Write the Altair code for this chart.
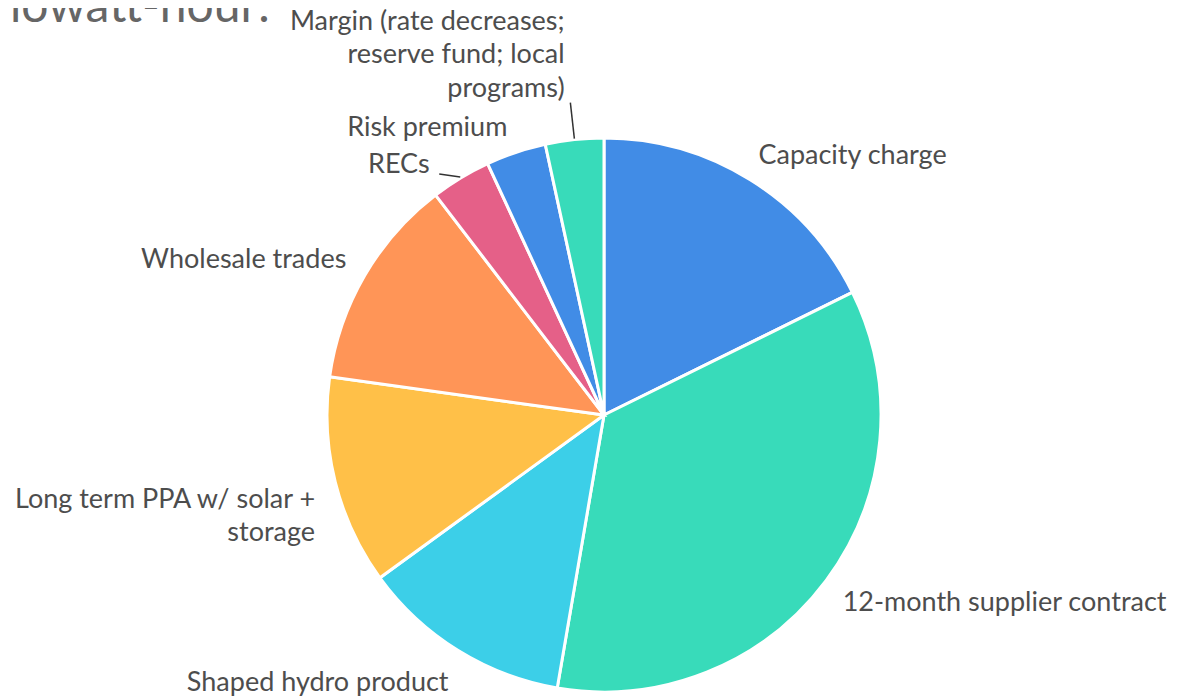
import math
import altair as alt
import pandas as pd

# ---- data ----
categories = [
    "Capacity charge",
    "12-month supplier contract",
    "Shaped hydro product",
    "Long term PPA w/ solar + storage",
    "Wholesale trades",
    "RECs",
    "Risk premium",
    "Margin (rate decreases; reserve fund; local programs)",
]
values = [17.7, 35.0, 12.3, 12.2, 12.4, 3.5, 3.5, 3.4]
labels = [
    "Capacity charge",
    "12-month supplier contract",
    "Shaped hydro product",
    "Long term PPA w/ solar +\nstorage",
    "Wholesale trades",
    "RECs",
    "Risk premium",
    "Margin (rate decreases;\nreserve fund; local\nprograms)",
]
title_text = "kilowatt-hour:"

# ---- styling / layout ----
colors = ["#418CE6", "#38DBBA", "#3CCFE8", "#FFC048", "#FF9557", "#E56088", "#418CE6", "#38DBBA"]
FONT = "Lato"
LABEL_SIZE = 27
LABEL_COLOR = "#4d4d4d"
CX, CY, R = 596, 407, 277
LABEL_R = 304
W, H = 1170, 688

# per-label placement: (align, dx, dy)
placement = [
    ("left", -6, -1),
    ("left", -5, 6),
    ("right", 5, 10),
    ("right", 6, 11),
    ("right", 5, -2),
    ("right", -17, 10),
    ("right", 0, 1),
    ("right", -7, -91),
]
# leader lines: (index, dx, dy) from slice edge to label
leaders = [(5, -21, -3), (7, -4, -36)]

total = sum(values)
df = pd.DataFrame({
    "idx": list(range(len(categories))),
    "category": categories,
    "value": values,
    "label": labels,
})

theta_scale = alt.Scale(domain=[0, total], range=[0, 2 * math.pi])
color_scale = alt.Scale(domain=categories, range=colors)

base = alt.Chart(df)

arcs = base.mark_arc(outerRadius=R, stroke="white", strokeWidth=3).encode(
    theta=alt.Theta("value:Q", stack=True, scale=theta_scale),
    order=alt.Order("idx:Q"),
    color=alt.Color("category:N", scale=color_scale, legend=None),
    x=alt.value(CX),
    y=alt.value(CY),
)

lbase = base.transform_window(
    cum="sum(value)", sort=[alt.SortField("idx")], frame=[None, 0]
).transform_calculate(
    mid="datum.cum - datum.value / 2"
).transform_calculate(
    ang=f"2 * PI * datum.mid / {total}"
).transform_calculate(
    ex=f"{CX} + {R + 1} * sin(datum.ang)",
    ey=f"{CY} - {R + 1} * cos(datum.ang)",
)

layers = [arcs]
for i, (align, dx, dy) in enumerate(placement):
    layers.append(
        lbase.transform_filter(f"datum.idx == {i}").mark_text(
            align=align, baseline="middle", radius=LABEL_R, dx=dx, dy=dy,
            font=FONT, fontSize=LABEL_SIZE, color=LABEL_COLOR,
            lineBreak="\n", lineHeight=33.5,
        ).encode(
            theta=alt.Theta("mid:Q", stack=None, scale=theta_scale),
            text="label:N",
            x=alt.value(CX),
            y=alt.value(CY),
        )
    )

for i, ldx, ldy in leaders:
    layers.append(
        lbase.transform_filter(f"datum.idx == {i}").transform_calculate(
            ex2=f"datum.ex + ({ldx})", ey2=f"datum.ey + ({ldy})"
        ).mark_rule(color="#333333", strokeWidth=1.5).encode(
            x=alt.X("ex:Q", scale=None, axis=None),
            x2="ex2:Q",
            y=alt.Y("ey:Q", scale=None, axis=None),
            y2="ey2:Q",
        )
    )

title = alt.Chart(pd.DataFrame({"t": [title_text]})).mark_text(
    align="right", baseline="alphabetic", font=FONT, fontSize=48, color="#666666"
).encode(text="t:N", x=alt.value(262), y=alt.value(14))
layers.append(title)

chart = alt.layer(*layers).properties(
    width=W, height=H, padding=0,
    autosize=alt.AutoSizeParams(type="none"),
).configure_view(stroke=None)

chart.save("out.html", embed_options={"renderer": "svg", "actions": False})
